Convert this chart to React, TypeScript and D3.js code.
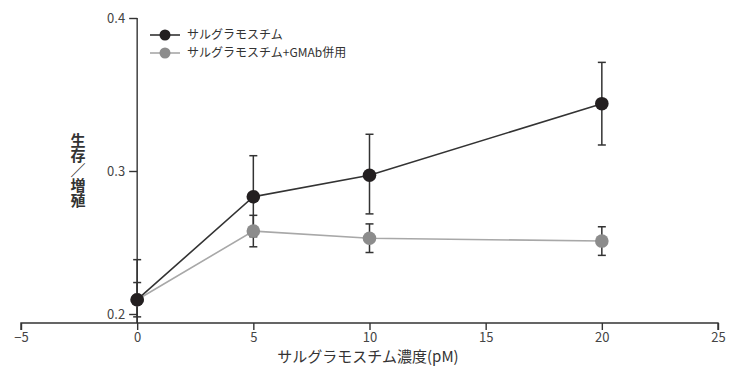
import React, { useEffect, useRef } from "react";
import * as d3 from "d3";

const doses = [0, 5, 10, 20];
const sargramostim = [0.21, 0.282, 0.297, 0.344];
const sargramostimErr = [0.028, 0.028, 0.027, 0.027];
const combo = [0.21, 0.258, 0.253, 0.251];
const comboErr = [0.012, 0.011, 0.01, 0.01];
const xTicks = [-5, 0, 5, 10, 15, 20, 25];
const yTicks = [0.2, 0.3, 0.4];
const seriesNames = ["サルグラモスチム", "サルグラモスチム+GMAb併用"];

const FONT = "'Noto Sans CJK JP', 'Noto Sans', sans-serif";

const App = () => {
  const svgRef = useRef<SVGSVGElement>(null);

  useEffect(() => {
    const width = 730;
    const height = 372;
    const svg = d3.select(svgRef.current).attr("width", width).attr("height", height);
    svg.selectAll("*").remove();

    const xScale = d3.scaleLinear().domain([-5, 25]).range([21, 718]);
    // the printed axis is not quite even, so map each labelled tick to where it sits
    const yScale = d3.scaleLinear().domain([0.2, 0.3, 0.4]).range([314, 171, 18]);
    const axisY = 323;

    svg
      .append("defs")
      .append("clipPath")
      .attr("id", "plot-clip")
      .append("rect")
      .attr("x", 0)
      .attr("y", 0)
      .attr("width", width)
      .attr("height", axisY);

    // x axis, ticks pointing down
    const xAxis = d3.axisBottom(xScale).tickValues(xTicks).tickSize(7).tickPadding(3);
    const gx = svg.append("g").attr("transform", `translate(0,${axisY})`).call(xAxis);
    gx.select(".domain")
      .attr("d", `M${xScale(-5)},7V0H${xScale(25)}V7`)
      .attr("stroke", "#333")
      .attr("stroke-width", 1.4);
    gx.selectAll(".tick line").attr("stroke", "#333").attr("stroke-width", 1.4);
    gx.selectAll("text")
      .style("font-family", FONT)
      .style("font-size", "13px")
      .style("fill", "#444");

    // y axis
    const yAxis = d3
      .axisLeft(yScale)
      .tickValues(yTicks)
      .tickSize(8)
      .tickPadding(4)
      .tickFormat(d3.format(".1f"));
    const gy = svg.append("g").attr("transform", `translate(${xScale(0)},0)`).call(yAxis);
    gy.select(".domain").attr("d", `M0,${yScale(0.4)}V${axisY}`).attr("stroke", "#333").attr("stroke-width", 1.4);
    gy.selectAll(".tick line").attr("stroke", "#333").attr("stroke-width", 1.4);
    gy.selectAll("text")
      .style("font-family", FONT)
      .style("font-size", "13px")
      .style("fill", "#444");

    const plot = svg.append("g").attr("clip-path", "url(#plot-clip)");

    const series = [
      { values: combo, err: comboErr, line: "#a8a8a8", fill: "#8c8c8c", bar: "#333" },
      { values: sargramostim, err: sargramostimErr, line: "#333", fill: "#231f20", bar: "#333" },
    ];

    const line = d3
      .line<number>()
      .x((d, i) => xScale(doses[i]))
      .y((d) => yScale(d));

    series.forEach((s) => {
      plot
        .append("path")
        .datum(s.values)
        .attr("fill", "none")
        .attr("stroke", s.line)
        .attr("stroke-width", 1.6)
        .attr("d", line);
    });

    // error bars
    series.forEach((s) => {
      const g = plot.append("g");
      s.values.forEach((v, i) => {
        const x = xScale(doses[i]);
        const y0 = yScale(v + s.err[i]);
        const y1 = yScale(v - s.err[i]);
        g.append("line").attr("x1", x).attr("x2", x).attr("y1", y0).attr("y2", y1).attr("stroke", s.bar).attr("stroke-width", 1.5);
        [y0, y1].forEach((yy) => {
          g.append("line").attr("x1", x - 4).attr("x2", x + 4).attr("y1", yy).attr("y2", yy).attr("stroke", s.bar).attr("stroke-width", 1.5);
        });
      });
    });

    // points
    series.forEach((s) => {
      plot
        .selectAll(null)
        .data(s.values)
        .enter()
        .append("circle")
        .attr("cx", (d, i) => xScale(doses[i]))
        .attr("cy", (d) => yScale(d))
        .attr("r", 6.8)
        .attr("fill", s.fill);
    });

    // legend
    const legend = svg.append("g").attr("transform", "translate(150,35)");
    [
      { name: seriesNames[0], line: "#333", fill: "#231f20" },
      { name: seriesNames[1], line: "#a8a8a8", fill: "#8c8c8c" },
    ].forEach((item, i) => {
      const row = legend.append("g").attr("transform", `translate(0,${i * 18})`);
      row.append("line").attr("x1", 0).attr("x2", 30).attr("y1", 0).attr("y2", 0).attr("stroke", item.line).attr("stroke-width", 1.6);
      row.append("circle").attr("cx", 15).attr("cy", 0).attr("r", 5.5).attr("fill", item.fill);
      row
        .append("text")
        .attr("x", 37)
        .attr("y", 0)
        .attr("dy", "0.35em")
        .style("font-family", FONT)
        .style("font-size", "12px")
        .style("fill", "#333")
        .text(item.name);
    });

    // axis titles
    svg
      .append("text")
      .attr("x", 368)
      .attr("y", 362)
      .attr("text-anchor", "middle")
      .style("font-family", FONT)
      .style("font-size", "15px")
      .style("fill", "#333")
      .text("サルグラモスチム濃度(pM)");

    svg
      .append("text")
      .attr("x", 78)
      .attr("y", 133)
      .style("writing-mode", "vertical-rl")
      .style("font-family", FONT)
      .style("font-size", "15px")
      .style("font-weight", "bold")
      .style("fill", "#333")
      .text("生存／増殖");
  }, []);

  return (
    <div style={{ position: "absolute", left: 0, top: 0 }}>
      <svg ref={svgRef} style={{ display: "block", background: "#fff" }} />
    </div>
  );
};

export default App;
